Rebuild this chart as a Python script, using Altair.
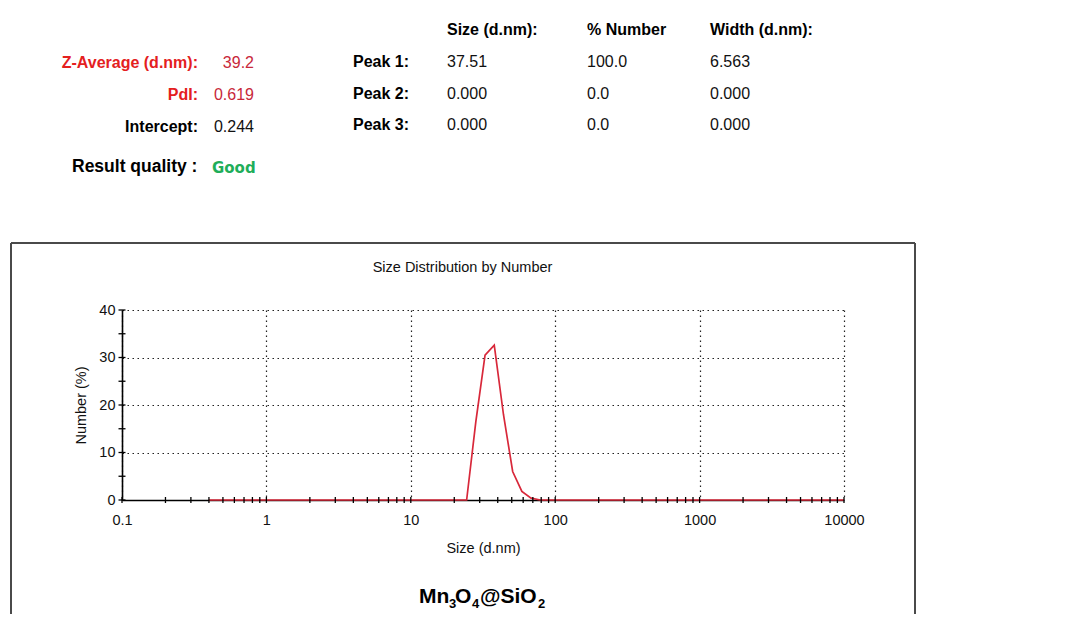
import altair as alt
import pandas as pd

FONT = "Liberation Sans"

# ---------------- data ----------------
sizes_nm = [0.4, 1.0, 10.0, 21.04, 24.36, 28.21, 32.67, 37.84, 43.82, 50.75, 58.77, 68.06, 78.82, 100.0, 1000.0, 10000.0]
number_pct = [0, 0, 0, 0, 0, 16.5, 30.5, 32.6, 18.0, 6.0, 1.8, 0.4, 0, 0, 0, 0]

x_decades = [0.1, 1, 10, 100, 1000, 10000]
x_minor = [0.2, 0.3, 0.4, 0.5, 0.6, 0.7, 0.8, 0.9,
           2, 3, 4, 5, 6, 7, 8, 9,
           20, 30, 40, 50, 60, 70, 80, 90,
           200, 300, 400, 500, 600, 700, 800, 900,
           2000, 3000, 4000, 5000, 6000, 7000, 8000, 9000]
y_major = [0, 10, 20, 30, 40]
y_all_ticks = [0, 5, 10, 15, 20, 25, 30, 35, 40]

stat_labels = ["Z-Average (d.nm):", "PdI:", "Intercept:"]
stat_values = ["39.2", "0.619", "0.244"]
quality_label = "Result quality :"
quality_value = "Good"

table_headers = ["Size (d.nm):", "% Number", "Width (d.nm):"]
peak_names = ["Peak 1:", "Peak 2:", "Peak 3:"]
peak_sizes = ["37.51", "0.000", "0.000"]
peak_numbers = ["100.0", "0.0", "0.0"]
peak_widths = ["6.563", "0.000", "0.000"]

chart_title = "Size Distribution by Number"
x_title = "Size (d.nm)"
y_title = "Number (%)"
sample_parts = ["Mn", "3", "O", "4", "@SiO", "2"]

# ---------------- styling ----------------
W, H = 722, 190
RED_LINE = "#d8283a"
RED_LABEL = "#e4201e"
RED_VALUE = "#c8283a"
GREEN = "#1fae5a"

curve_df = pd.DataFrame({"size": sizes_nm, "number": number_pct})
xtick_df = pd.DataFrame({"size": x_decades + x_minor})
ytick_df = pd.DataFrame({"number": y_all_ticks})
one = pd.DataFrame({"a": [0]})

xscale = alt.Scale(type="log", domain=[0.1, 10000], nice=False)
yscale = alt.Scale(domain=[0, 40], nice=False, zero=True)

xaxis = alt.Axis(values=x_decades, labelExpr="'' + datum.value", grid=True,
                 gridDash=[1.5, 3.5], gridColor="#222222", gridWidth=1.2,
                 ticks=False, domainColor="black", domainWidth=1.6,
                 labelFont=FONT, labelFontSize=14.5, labelColor="#111111",
                 labelPadding=13, labelFlush=False, labelOverlap=False,
                 title=x_title, titleFont=FONT, titleFontSize=14.5,
                 titleFontWeight="normal", titleColor="#111111", titlePadding=15)
yaxis = alt.Axis(values=y_major, grid=True, gridDash=[1.5, 3.5], gridColor="#222222",
                 gridWidth=1.2, ticks=False, domainColor="black", domainWidth=1.6,
                 labelFont=FONT, labelFontSize=14.5, labelColor="#111111",
                 labelPadding=7, labelFlush=False,
                 title=y_title, titleFont=FONT, titleFontSize=14.5,
                 titleFontWeight="normal", titleColor="#111111", titlePadding=10)

line = alt.Chart(curve_df).mark_line(color=RED_LINE, strokeWidth=1.7).encode(
    x=alt.X("size:Q", scale=xscale, axis=xaxis),
    y=alt.Y("number:Q", scale=yscale, axis=yaxis),
)

xticks = alt.Chart(xtick_df).mark_rule(color="black", strokeWidth=1.3).encode(
    x=alt.X("size:Q", scale=xscale),
    y=alt.value(H - 3), y2=alt.value(H + 3),
)
yticks = alt.Chart(ytick_df).mark_rule(color="black", strokeWidth=1.3).encode(
    y=alt.Y("number:Q", scale=yscale),
    x=alt.value(-3.5), x2=alt.value(3.5),
)


def txt(s, x, y, size=15, weight="bold", color="black", align="left",
        font=FONT, baseline="middle"):
    return alt.Chart(one).mark_text(
        align=align, baseline=baseline, font=font, fontSize=size,
        fontWeight=weight, color=color,
    ).encode(x=alt.value(x), y=alt.value(y), text=alt.value(s))


def rule(x, x2, y, y2):
    return alt.Chart(one).mark_rule(color="#4a4a4a", strokeWidth=2).encode(
        x=alt.value(x), x2=alt.value(x2), y=alt.value(y), y2=alt.value(y2))


layers = []
# frame around the graph panel
layers.append(rule(-111, 793, -67, -67))
layers.append(rule(-111, -111, -67, 304))
layers.append(rule(793, 793, -67, 304))

# stats block
stat_y = [-247, -215, -183]
stat_colors = [(RED_LABEL, RED_VALUE), (RED_LABEL, RED_VALUE), ("black", "#111111")]
for lab, val, yy, (c1, c2) in zip(stat_labels, stat_values, stat_y, stat_colors):
    layers.append(txt(lab, 76, yy, size=16, weight="bold", color=c1, align="right"))
    layers.append(txt(val, 132, yy, size=16, weight="normal", color=c2, align="right"))
layers.append(txt(quality_label, -50, -143, size=17.5, weight="bold"))
layers.append(txt(quality_value, 90, -142, size=15, weight="bold", color=GREEN,
                  font="DejaVu Sans"))

# peak table
col_x = [325, 465, 588]
for h, cx in zip(table_headers, col_x):
    layers.append(txt(h, cx, -280, size=16, weight="bold"))
row_y = [-248, -216, -185]
for i, ry in enumerate(row_y):
    layers.append(txt(peak_names[i], 231, ry, size=16, weight="bold"))
    for col, cx in zip([peak_sizes, peak_numbers, peak_widths], col_x):
        layers.append(txt(col[i], cx, ry, size=16, weight="normal", color="#111111"))

# graph title
layers.append(txt(chart_title, 340.5, -42, size=14.5, weight="normal",
                  color="#111111", align="center"))

# sample label with subscripts
part_x = [297, 327, 333, 350, 358, 416]
for j, (p, px) in enumerate(zip(sample_parts, part_x)):
    sub = j % 2 == 1
    layers.append(txt(p, px, 298 if sub else 293, size=13 if sub else 21,
                      weight="bold", baseline="alphabetic"))

chart = alt.layer(line, xticks, yticks, *layers).properties(
    width=W, height=H,
    padding={"left": 114, "top": 302, "right": 228, "bottom": 114},
    autosize=alt.AutoSizeParams(type="none"),
    background="white",
).configure_view(stroke="transparent")

chart.save("out.html", embed_options={"renderer": "svg", "actions": False})
